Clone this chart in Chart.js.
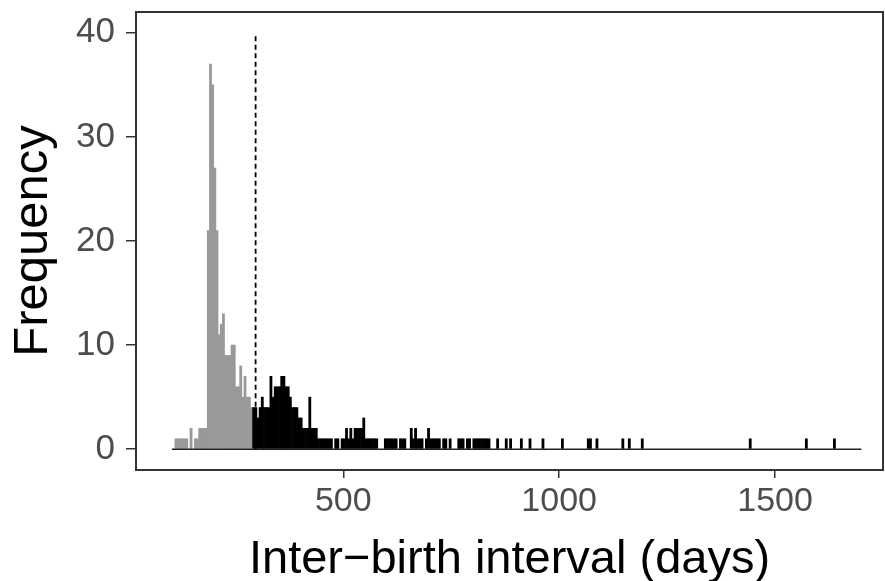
<!DOCTYPE html>
<html>
<head>
<meta charset="utf-8">
<script src="https://cdn.jsdelivr.net/npm/chart.js@4"></script>
<style>
  html, body { margin: 0; padding: 0; background: #fff; }
  #c { display: block; }
</style>
</head>
<body>
<canvas id="c" width="885" height="581"></canvas>
<script>
// ---- data (bin start in days, 5-day bins) ----
const binWidth = 5;
const grayStart = [110,115,120,125,130,135,145,155,160,165,170,175,180,185,190,195,200,205,210,215,220,225,230,235,240,245,250,255,260,265,270,275,280,285];
const grayCounts = [1,1,1,1,1,1,2,1,1,2,2,2,2,21,37,35,27,21,11,12,13,9,9,9,10,10,6,6,8,5,7,5,5,4];

const blackStart = [290,295,300,305,310,315,320,325,330,335,340,345,350,355,360,365,370,375,380,385,390,395,400,405,410,415,420,425,430,435,
  440,445,450,455,460,465,470,480,485,495,500,505,510,515,520,525,530,535,540,545,550,555,560,565,570,575,
  595,600,605,610,615,620,630,635,640,655,660,665,670,675,680,690,695,700,705,710,715,720,730,735,745,
  765,770,775,785,790,800,805,810,815,820,825,830,835,855,875,885,910,930,960,1005,1065,1070,1085,1145,1160,1190,1440,1570,1635];
const blackCounts = [4,4,3,4,5,4,4,4,7,5,6,6,6,7,7,6,6,5,4,4,4,3,3,2,2,2,5,2,2,2,
  1,1,1,1,1,1,1,1,1,1,1,2,1,2,1,2,2,2,2,3,1,1,1,1,1,1,
  1,1,1,1,1,1,1,1,1,2,1,2,1,1,1,1,2,1,1,1,1,1,1,1,1,
  1,1,1,1,1,1,1,1,1,1,1,1,1,1,1,1,1,1,1,1,1,1,1,1,1,1,1,1,1];

const binRange = [103, 1700];   // extent of histogram bins (zero-count outline)
const cutoff = 297;             // dashed threshold line (days)
const cutoffHeight = 40;

const xTicks = [500, 1000, 1500];
const yTicks = [0, 10, 20, 30, 40];
const xTitle = 'Inter\u2212birth interval (days)';
const yTitle = 'Frequency';

// ---- build ----
const toPts = (starts, counts) => starts.map((s, i) => ({ x: s + binWidth / 2, y: counts[i] }));

const FONT = '"Liberation Sans", Arial, Helvetica, sans-serif';

const borderPlugin = {
  id: 'panelBorder',
  afterDraw(chart) {
    const { ctx, chartArea: a } = chart;
    ctx.save();
    ctx.strokeStyle = '#333333';
    ctx.lineWidth = 2;
    ctx.strokeRect(a.left, a.top, a.right - a.left, a.bottom - a.top);
    ctx.restore();
  }
};

new Chart(document.getElementById('c'), {
  type: 'bar',
  data: {
    datasets: [
      {
        type: 'line',
        data: [{ x: cutoff, y: 0 }, { x: cutoff, y: cutoffHeight }],
        borderColor: '#000',
        borderWidth: 1.8,
        borderDash: [5, 3.5],
        pointRadius: 0,
        order: 0
      },
      {
        type: 'line',
        data: [{ x: binRange[0], y: 0 }, { x: binRange[1], y: 0 }],
        borderColor: '#222',
        borderWidth: 1.5,
        pointRadius: 0,
        order: 1
      },
      {
        data: toPts(grayStart, grayCounts),
        backgroundColor: '#999999',
        borderWidth: 0,
        grouped: false,
        barPercentage: 1,
        categoryPercentage: 1,
        order: 3
      },
      {
        data: toPts(blackStart, blackCounts),
        backgroundColor: '#000000',
        borderWidth: 0,
        grouped: false,
        barPercentage: 1,
        categoryPercentage: 1,
        order: 2
      }
    ]
  },
  options: {
    responsive: false,
    animation: false,
    devicePixelRatio: 1,
    layout: { padding: { left: 0, top: 12, right: 2, bottom: 0 } },
    plugins: { legend: { display: false }, tooltip: { enabled: false } },
    scales: {
      x: {
        type: 'linear',
        min: 20,
        max: 1750,
        offset: false,
        afterBuildTicks: s => { s.ticks = xTicks.map(v => ({ value: v })); },
        afterFit: s => { s.height = 111; s.paddingLeft = 0; s.paddingRight = 0; },
        grid: { display: true, offset: false, drawOnChartArea: false, drawTicks: true, tickLength: 8, color: '#333333', lineWidth: 1.5 },
        border: { display: true, color: '#333333', width: 2 },
        ticks: { color: '#4D4D4D', font: { family: FONT, size: 34 }, padding: 3, maxRotation: 0, callback: v => String(v) },
        title: { display: true, text: xTitle, color: '#000', font: { family: FONT, size: 47, lineHeight: 0.9 }, padding: { top: 0, bottom: 0 } }
      },
      y: {
        type: 'linear',
        min: -2,
        max: 42,
        afterBuildTicks: s => { s.ticks = yTicks.map(v => ({ value: v })); },
        afterFit: s => { s.width = 136; s.paddingTop = 0; s.paddingBottom = 0; },
        grid: { display: true, drawOnChartArea: false, drawTicks: true, tickLength: 10, color: '#333333', lineWidth: 1.5 },
        border: { display: true, color: '#333333', width: 2 },
        ticks: { color: '#4D4D4D', font: { family: FONT, size: 35 }, padding: 11, callback: v => String(v) },
        title: { display: true, text: yTitle, color: '#000', font: { family: FONT, size: 49, lineHeight: 0.9 }, padding: { top: 11, bottom: 0 } }
      }
    }
  },
  plugins: [borderPlugin]
});
</script>
</body>
</html>
